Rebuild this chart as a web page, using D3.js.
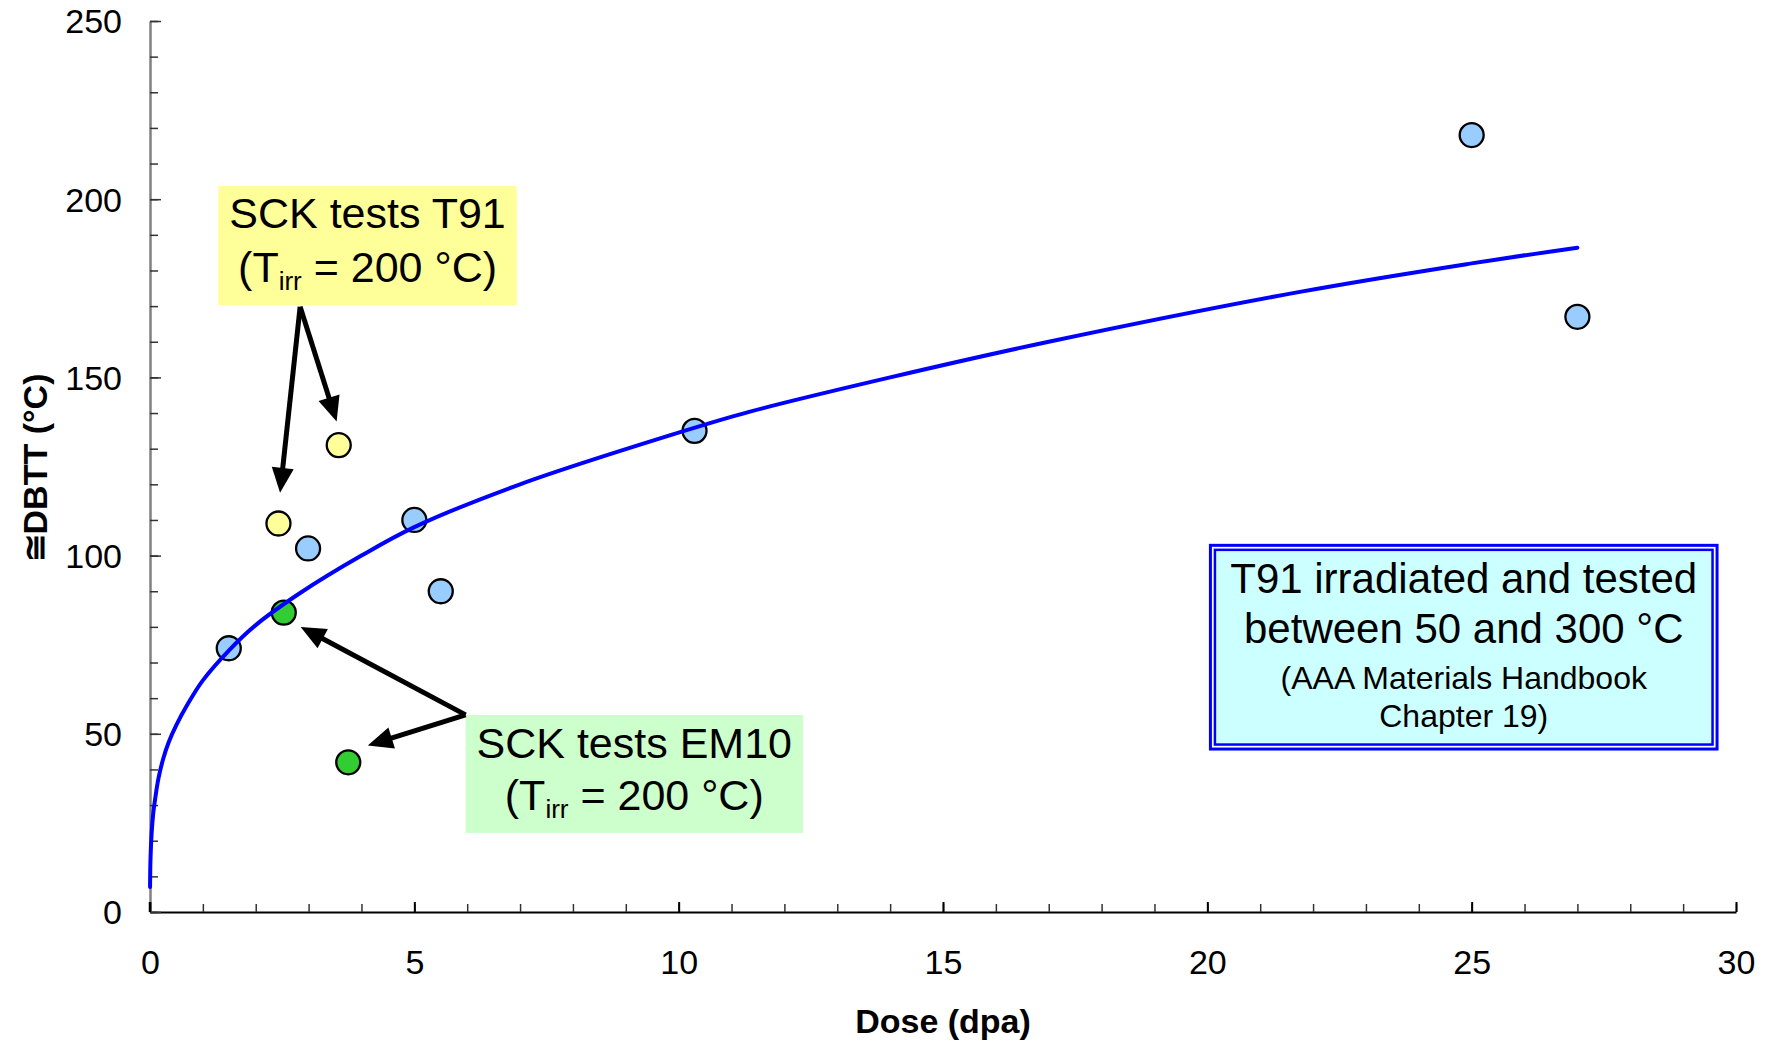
<!DOCTYPE html>
<html>
<head>
  <meta charset="utf-8">
  <title>DBTT vs Dose</title>
  <style>
    body { margin: 0; background: #fff; }
    svg text { font-family: "Liberation Sans", Arial, sans-serif; }
  </style>
</head>
<body>
<div class="area"></div>
<script src="https://cdnjs.cloudflare.com/ajax/libs/d3/7.8.5/d3.min.js"></script>
<script>
var w = 1772, h = 1041;

// T91 irradiated and tested between 50 and 300 C (blue points)
var t91Dose = [1.49, 2.99, 5.0, 5.5, 10.3, 25.0, 27.0];
var t91Dbtt = [74, 102, 110, 90, 135, 218, 167];
// SCK tests T91 (yellow)
var sckT91Dose = [2.43, 3.57];
var sckT91Dbtt = [109, 131];
// SCK tests EM10 (green)
var sckEm10Dose = [2.53, 3.75];
var sckEm10Dbtt = [84, 42];

// trend curve
var fitDose = [0.001, 0.005, 0.01, 0.03, 0.06, 0.1, 0.16, 0.25, 0.35, 0.5, 0.7, 1.0, 1.5, 2, 2.84, 4, 5, 7, 10, 11.35, 14, 17, 21.75, 25, 27];
var fitDbtt = [7, 12, 15, 22, 27.5, 32, 37.5, 43, 47.5, 52.5, 58, 65, 73.5, 80.5, 89.5, 100, 108, 120, 134.5, 140.4, 150, 160, 174, 182, 186.4];

var xTicks = [0, 5, 10, 15, 20, 25, 30];
var yTicks = [0, 50, 100, 150, 200, 250];

var svg = d3.select('.area').append('svg')
  .attr('width', w).attr('height', h)
  .style('display', 'block');

svg.append('rect').attr('width', w).attr('height', h).attr('fill', '#fff');

var x = d3.scaleLinear().domain([0, 30]).range([150, 1736]);
var y = d3.scaleLinear().domain([0, 250]).range([912, 21]);

// x axis: minor then major
svg.append('g')
  .attr('transform', 'translate(0,912)')
  .call(d3.axisBottom(x).tickValues(d3.range(0, 31)).tickSize(-8).tickSizeOuter(0).tickFormat(''))
  .call(function(g){
    g.select('.domain').attr('stroke', '#000').attr('stroke-width', 2);
    g.selectAll('.tick line').attr('stroke', '#333').attr('stroke-width', 1.5);
  });
svg.append('g')
  .attr('transform', 'translate(0,912)')
  .call(d3.axisBottom(x).tickValues(xTicks).tickSize(-10).tickSizeOuter(0).tickPadding(38).tickFormat(d3.format('d')))
  .call(function(g){
    g.select('.domain').remove();
    g.selectAll('.tick line').attr('stroke', '#000').attr('stroke-width', 2);
    g.selectAll('.tick text').attr('font-size', 34).attr('fill', '#000')
      .attr('font-family', '"Liberation Sans", Arial, sans-serif');
  });

// y axis
svg.append('g')
  .attr('transform', 'translate(150,0)')
  .call(d3.axisLeft(y).tickValues(d3.range(0, 251, 10)).tickSize(-8).tickSizeOuter(0).tickFormat(''))
  .call(function(g){
    g.select('.domain').attr('stroke', '#808080').attr('stroke-width', 2.5);
    g.selectAll('.tick line').attr('stroke', '#333').attr('stroke-width', 1.5);
  });
svg.append('g')
  .attr('transform', 'translate(150,0)')
  .call(d3.axisLeft(y).tickValues(yTicks).tickSize(-11).tickSizeOuter(0).tickPadding(28).tickFormat(d3.format('d')))
  .call(function(g){
    g.select('.domain').remove();
    g.selectAll('.tick line').attr('stroke', '#333').attr('stroke-width', 1.5);
    g.selectAll('.tick text').attr('font-size', 34).attr('fill', '#000').attr('dy', '0.35em')
      .attr('font-family', '"Liberation Sans", Arial, sans-serif');
  });

// black 0 tick of the x axis over the grey y axis line
svg.append('line')
  .attr('x1', x(0)).attr('x2', x(0)).attr('y1', 912).attr('y2', 902)
  .attr('stroke', '#000').attr('stroke-width', 2.5);

// axis titles
svg.append('text')
  .attr('x', (x(0) + x(30)) / 2).attr('y', 1033)
  .attr('text-anchor', 'middle').attr('font-size', 34).attr('font-weight', 'bold')
  .text('Dose (dpa)');
svg.append('text')
  .attr('transform', 'translate(47,468) rotate(-90)')
  .attr('text-anchor', 'middle').attr('font-size', 34).attr('font-weight', 'bold')
  .text('\u2245DBTT (°C)');

// points
function dots(xs, ys, fill){
  svg.append('g').selectAll('circle')
    .data(xs.map(function(d, i){ return [d, ys[i]]; }))
    .enter().append('circle')
    .attr('cx', function(d){ return x(d[0]); })
    .attr('cy', function(d){ return y(d[1]); })
    .attr('r', 12)
    .attr('fill', fill)
    .attr('stroke', '#000').attr('stroke-width', 2.3);
}
dots(t91Dose, t91Dbtt, '#99ccff');
dots(sckT91Dose, sckT91Dbtt, '#ffff99');
dots(sckEm10Dose, sckEm10Dbtt, '#33cc33');

// trend line
var line = d3.line()
  .x(function(d){ return x(d[0]); })
  .y(function(d){ return y(d[1]); })
  .curve(d3.curveCatmullRom.alpha(0.5));
svg.append('path')
  .datum(fitDose.map(function(d, i){ return [d, fitDbtt[i]]; }))
  .attr('d', line)
  .attr('fill', 'none').attr('stroke', '#0000ff').attr('stroke-width', 4)
  .attr('stroke-linecap', 'round');

// arrows, in data units
function arrow(x1, y1, x2, y2){
  var ax = x(x1), ay = y(y1), bx = x(x2), by = y(y2);
  var dx = bx - ax, dy = by - ay, len = Math.sqrt(dx*dx + dy*dy);
  var ux = dx / len, uy = dy / len, hl = 25, hw = 11;
  var cx = bx - ux * hl, cy = by - uy * hl;
  svg.append('line')
    .attr('x1', ax).attr('y1', ay).attr('x2', cx + ux * 2).attr('y2', cy + uy * 2)
    .attr('stroke', '#000').attr('stroke-width', 5);
  svg.append('path')
    .attr('d', 'M' + bx + ',' + by +
      'L' + (cx - uy * hw) + ',' + (cy + ux * hw) +
      'L' + (cx + uy * hw) + ',' + (cy - ux * hw) + 'Z')
    .attr('fill', '#000');
}

function twoLines(cx, top, first, b1, b2, big, small){
  svg.append('text').attr('x', cx).attr('y', top + b1)
    .attr('text-anchor', 'middle').attr('font-size', big).text(first);
  var t = svg.append('text').attr('x', cx).attr('y', top + b2)
    .attr('text-anchor', 'middle').attr('font-size', big);
  t.append('tspan').text('(T');
  t.append('tspan').attr('font-size', small).attr('dy', 8).text('irr');
  t.append('tspan').attr('dy', -8).text(' = 200 °C)');
}

// yellow note
var yb = {x0: 1.29, x1: 6.94, y0: 203.7, y1: 170.3};
svg.append('rect')
  .attr('x', x(yb.x0)).attr('y', y(yb.y0))
  .attr('width', x(yb.x1) - x(yb.x0)).attr('height', y(yb.y1) - y(yb.y0))
  .attr('fill', '#ffff99');
twoLines((x(yb.x0) + x(yb.x1)) / 2, y(yb.y0), 'SCK tests T91', 42, 96, 43, 26);
arrow(2.84, 169.8, 2.46, 117.6);
arrow(2.84, 169.8, 3.53, 137.6);

// green note
var gb = {x0: 5.97, x1: 12.35, y0: 55.3, y1: 22.2};
svg.append('rect')
  .attr('x', x(gb.x0)).attr('y', y(gb.y0))
  .attr('width', x(gb.x1) - x(gb.x0)).attr('height', y(gb.y1) - y(gb.y0))
  .attr('fill', '#ccffcc');
twoLines((x(gb.x0) + x(gb.x1)) / 2, y(gb.y0), 'SCK tests EM10', 43, 95, 43, 26);
arrow(5.97, 55.3, 2.85, 80.0);
arrow(5.97, 55.3, 4.12, 46.7);

// blue note with double border
var bb = {x0: 20.03, x1: 29.67, y0: 103.3, y1: 45.3};
var bx0 = x(bb.x0), by0 = y(bb.y0), bw = x(bb.x1) - x(bb.x0), bh = y(bb.y1) - y(bb.y0);
svg.append('rect').attr('x', bx0 + 1.5).attr('y', by0 + 1.5)
  .attr('width', bw - 3).attr('height', bh - 3)
  .attr('fill', '#fff').attr('stroke', '#0000ff').attr('stroke-width', 3);
svg.append('rect').attr('x', bx0 + 6).attr('y', by0 + 6)
  .attr('width', bw - 12).attr('height', bh - 12)
  .attr('fill', '#ccffff').attr('stroke', '#0000ff').attr('stroke-width', 2.5);
var bcx = bx0 + bw / 2;
[['T91 irradiated and tested', 49, 42],
 ['between 50 and 300 °C', 99, 42],
 ['(AAA Materials Handbook', 145, 32],
 ['Chapter 19)', 183, 32]].forEach(function(r){
  svg.append('text').attr('x', bcx).attr('y', by0 + r[1])
    .attr('text-anchor', 'middle').attr('font-size', r[2]).text(r[0]);
});
</script>
</body>
</html>
